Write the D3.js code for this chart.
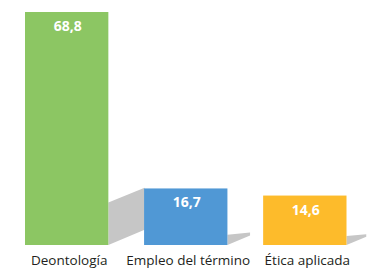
<!DOCTYPE html>
<html>
<head>
<meta charset="utf-8">
<script src="https://cdn.jsdelivr.net/npm/d3@7"></script>
<style>
 body { margin: 0; background: #fff; }
 svg { display: block; }
</style>
</head>
<body>
<div id="chart"></div>
<script>
(function(){
 // data
 const categories = ["Deontología", "Empleo del término", "Ética aplicada"];
 const values = [68.8, 16.7, 14.6];
 const colors = ["#8cc663", "#5098d5", "#fdbb2b"];

 const width = 382;
 const height = 272;

 const svg = d3.select("#chart")
 .append("svg")
 .attr("width", width)
 .attr("height", height);

 const x = d3.scaleBand()
 .domain(categories)
 .range([25, 346.5])
 .paddingInner(0.3)
 .paddingOuter(0);

 const y = d3.scaleLinear()
 .domain([0, d3.max(values)])
 .range([245, 12]);

 const rows = categories.map((c, i) => ({ cat: c, value: values[i], color: colors[i] }));
 const fmt = v => d3.format(".1f")(v).replace(".", ",");

 // gap between two bars, the long shadow stops under the next bar
 const gap = x.step() - x.bandwidth();

 // gray floor shadows, drawn first so the next bar covers them
 svg.append("g")
 .selectAll("path")
 .data(rows)
 .enter().append("path")
 .attr("fill", "#c6c6c6")
 .attr("d", d => {
 const x1 = x(d.cat) + x.bandwidth();
 const y0 = y(0);
 const h = y(0) - y(d.value);
 const len = Math.min(0.4 * h, gap + 0.5);
 const left = 0.182 * h;
 const k = h / (y(0) - y(d3.max(values)));
 return d3.line()([
 [x1, y0],
 [x1, y0 - left],
 [x1 + len, y0 - left - 0.41 * len * k],
 [x1 + len, y0 - 0.42 * len]
 ]) + "Z";
 });

 // bars
 svg.append("g")
 .selectAll("rect")
 .data(rows)
 .enter().append("rect")
 .attr("x", d => x(d.cat))
 .attr("y", d => y(d.value))
 .attr("width", x.bandwidth())
 .attr("height", d => y(0) - y(d.value))
 .attr("fill", d => d.color);

 // value labels inside bar tops
 svg.append("g")
 .selectAll("text")
 .data(rows)
 .enter().append("text")
 .attr("x", d => x(d.cat) + x.bandwidth() / 2 + 1)
 .attr("y", d => y(d.value) + 19)
 .attr("text-anchor", "middle")
 .attr("fill", "#fff")
 .style("font-family", "'Open Sans', sans-serif")
 .style("font-weight", "bold")
 .style("font-size", "14px")
 .text(d => fmt(d.value));

 // category labels
 svg.append("g")
 .selectAll("text")
 .data(rows)
 .enter().append("text")
 .attr("x", d => x(d.cat) + x.bandwidth() / 2 + 2.5)
 .attr("y", 265)
 .attr("text-anchor", "middle")
 .attr("fill", "#231f20")
 .style("font-family", "'Open Sans', sans-serif")
 .style("font-size", "13.5px")
 .text(d => d.cat);
})();
</script>
</body>
</html>
